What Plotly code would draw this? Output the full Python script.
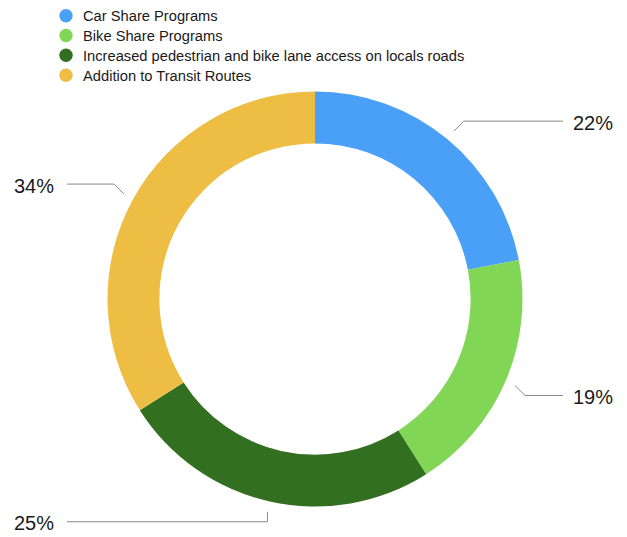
import math
import plotly.graph_objects as go

# Survey responses: preferred transportation improvements (percent of answers)
labels = [
    "Car Share Programs",
    "Bike Share Programs",
    "Increased pedestrian and bike lane access on locals roads",
    "Addition to Transit Routes",
]
values = [22, 19, 25, 34]
colors = ["#4A9FF6", "#82D656", "#336F20", "#EEBD43"]

W, H = 627, 537
CX, CY, R = 315, 299, 207.5          # ring centre and outer radius in pixels
FONT = "Liberation Sans, Arial, Helvetica, sans-serif"
INK = "#1a1a1a"
LEADER = "#8a8a8a"


def px(x):
    return x / W


def py(y):
    return 1 - y / H


fig = go.Figure(
    go.Pie(
        labels=labels,
        values=values,
        hole=0.75,
        sort=False,
        direction="clockwise",
        rotation=0,
        marker=dict(colors=colors, line=dict(width=0)),
        textinfo="none",
        showlegend=False,
        domain=dict(x=[px(CX - R), px(CX + R)], y=[py(CY + R), py(CY - R)]),
    )
)

shapes = []
annotations = []

# Outside percentage labels with elbow leader lines
total = sum(values)
cum = 0
for v in values:
    mid = (cum + v / 2) / total * 360
    cum += v
    a = math.radians(mid)
    sx, sy = CX + 218 * math.sin(a), CY - 218 * math.cos(a)
    snap = round(mid / 45) * 45
    b = math.radians(snap)
    seg = 14 if snap % 90 else 10
    ex, ey = sx + seg * math.sin(b), sy - seg * math.cos(b)
    right = math.sin(a) > 0
    hx = 563 if right else 67
    shapes.append(dict(
        type="path", xref="paper", yref="paper",
        path=f"M {px(sx)},{py(sy)} L {px(ex)},{py(ey)} L {px(hx)},{py(ey)}",
        line=dict(color=LEADER, width=1),
    ))
    annotations.append(dict(
        text=f"{v / total * 100:.0f}%",
        xref="paper", yref="paper",
        x=px(571 if right else 56), y=py(ey + 1.5),
        xanchor="left" if right else "right", yanchor="middle",
        showarrow=False,
        font=dict(family=FONT, size=20, color=INK),
    ))

# Legend: coloured dots with category names
row_y = [15.7, 35.5, 55.3, 75.2]
dot_r = 6.7
for lab, col, y in zip(labels, colors, row_y):
    shapes.append(dict(
        type="circle", xref="paper", yref="paper",
        x0=px(66 - dot_r), x1=px(66 + dot_r),
        y0=py(y + dot_r), y1=py(y - dot_r),
        fillcolor=col, line=dict(width=0),
    ))
    annotations.append(dict(
        text=lab, xref="paper", yref="paper",
        x=px(80.5), y=py(y + 0.5),
        xanchor="left", yanchor="middle", showarrow=False,
        font=dict(family=FONT, size=14.7, color=INK),
    ))

fig.update_layout(
    width=W, height=H,
    margin=dict(l=0, r=0, t=0, b=0),
    paper_bgcolor="white",
    plot_bgcolor="white",
    shapes=shapes,
    annotations=annotations,
)

fig.write_html("out.html")
